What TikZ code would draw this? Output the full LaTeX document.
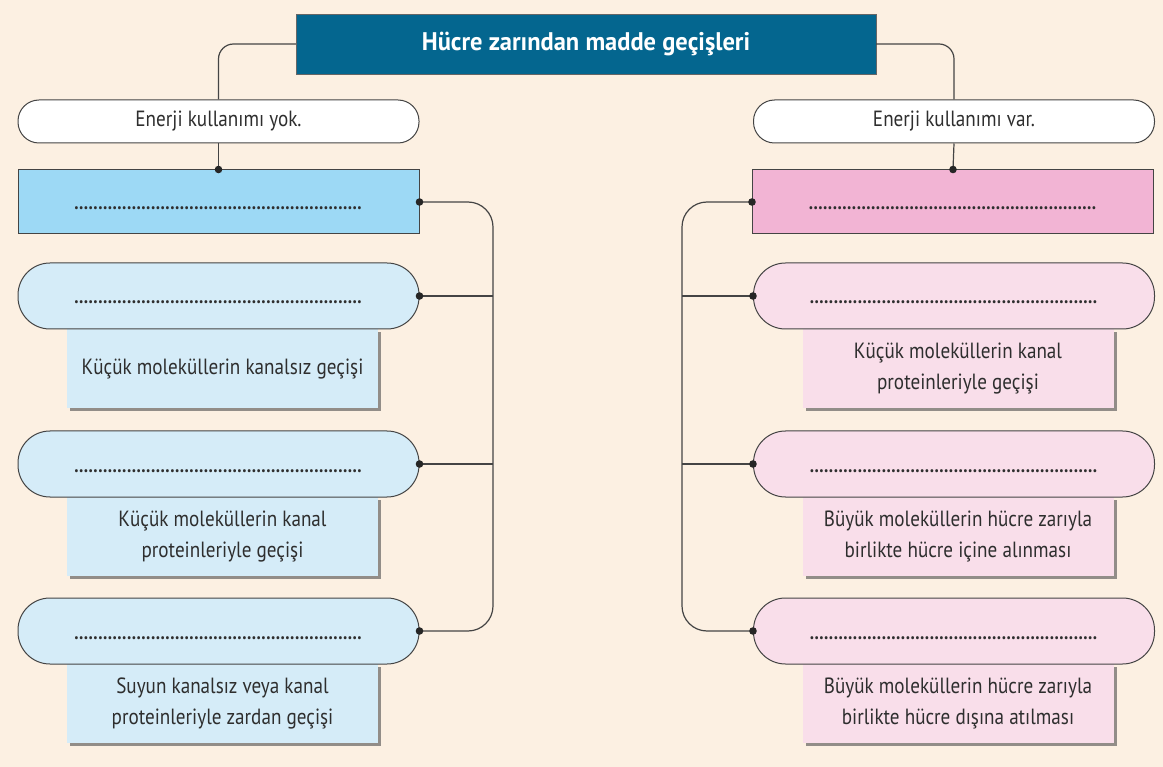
\documentclass[tikz,border=0pt]{standalone}
\usepackage{fontspec}
\setmainfont[FakeStretch=0.87]{PT Sans}
\newfontfamily\titlefont[FakeStretch=0.96]{PT Sans}
\usetikzlibrary{positioning, shadows, calc}
\definecolor{pagecream}{HTML}{FCF0E2}
\definecolor{titleteal}{HTML}{04668F}
\definecolor{passiveblue}{HTML}{9DD9F5}
\definecolor{passivebluelight}{HTML}{D5ECF8}
\definecolor{activepink}{HTML}{F2B4D4}
\definecolor{activepinklight}{HTML}{F9DEEA}
\definecolor{linegray}{HTML}{444444}
\definecolor{textgray}{HTML}{2E2E2E}
\newcommand{\blankline}{\hbox to 289pt{\bfseries\leaders\hbox to 4.8pt{\hss.\hss}\hfill}}
\tikzset{
  link/.style={draw=linegray, line width=1.2pt},
  junction/.style={fill=black!85},
  titlebox/.style={draw=black!60, fill=titleteal, text=white, minimum width=580pt, minimum height=60pt,
    font=\titlefont\fontsize{25.5}{28}\selectfont\bfseries},
  energypill/.style={draw=linegray, line width=1pt, fill=white, rounded corners=21pt, minimum width=401pt,
    minimum height=43pt, text=textgray, font=\fontsize{22}{26}\selectfont},
  mainbox/.style={draw=linegray, line width=1pt, minimum width=401pt, minimum height=64pt, text=textgray,
    text height=16pt, text depth=0pt, font=\fontsize{20}{24}\selectfont},
  blankpill/.style={draw=linegray, line width=1pt, rounded corners=32pt, minimum width=401pt, minimum height=66pt,
    text=textgray, text height=16pt, text depth=0pt, font=\fontsize{20}{24}\selectfont},
  infobox/.style={minimum width=311pt, minimum height=79pt, align=center, text=textgray,
    font=\fontsize{22}{31}\selectfont,
    drop shadow={shadow xshift=3pt, shadow yshift=-3pt, fill=black!70, opacity=.6}}
}
% pill with a text box under it: name, x, y, colour, text
\newcommand{\stepcard}[5]{%
  \node[infobox, fill=#4, anchor=north] (#1info) at (#2+4,#3+33) {#5};
  \node[blankpill, fill=#4] (#1) at (#2,#3) {\blankline};
}
\begin{document}
\begin{tikzpicture}[x=1pt, y=-1pt]
  \fill[pagecream] (0,0) rectangle (1163,767);
  \useasboundingbox (0,0) rectangle (1163,767);

  % title and the two branches
  \node[titlebox] (title) at (586,44) {Hücre zarından madde geçişleri};
  \node[energypill] (enerjiyok) at (218.5,121.5) {Enerji kullanımı yok.};
  \node[energypill] (enerjivar) at (954,121.5) {Enerji kullanımı var.};
  \draw[link, rounded corners=15pt] (title.west) -| (enerjiyok.north);
  \draw[link, rounded corners=15pt] (title.east) -| (enerjivar.north);

  \node[mainbox, fill=passiveblue] (pasif) at (218.5,202) {\blankline};
  \node[mainbox, fill=activepink] (aktif) at (953,202) {\blankline};
  \draw[link] (enerjiyok.south) -- (pasif.north);
  \draw[link] (enerjivar.south) -- (aktif.north);

  % Left: no energy
  \stepcard{pasifA}{218.5}{296}{passivebluelight}{Küçük moleküllerin kanalsız geçişi}
  \stepcard{pasifB}{218.5}{464}{passivebluelight}{Küçük moleküllerin kanal\\proteinleriyle geçişi}
  \stepcard{pasifC}{218.5}{631}{passivebluelight}{Suyun kanalsız veya kanal\\proteinleriyle zardan geçişi}

  % Right: energy used
  \stepcard{aktifA}{954}{296}{activepinklight}{Küçük moleküllerin kanal\\proteinleriyle geçişi}
  \stepcard{aktifB}{954}{464}{activepinklight}{Büyük moleküllerin hücre zarıyla\\birlikte hücre içine alınması}
  \stepcard{aktifC}{954}{631}{activepinklight}{Büyük moleküllerin hücre zarıyla\\birlikte hücre dışına atılması}

  \coordinate (pasifbus) at (493,400);
  \coordinate (aktifbus) at (682,400);
  \draw[link, rounded corners=25pt] (pasif.east) -| (pasifbus) |- (pasifC.east);
  \draw[link, rounded corners=25pt] (aktif.west) -| (aktifbus) |- (aktifC.west);
  \foreach \n in {pasifA, pasifB} {
    \draw[link] (\n.east) -- (\n.east -| pasifbus);
  }
  \foreach \n in {aktifA, aktifB} {
    \draw[link] (\n.west) -- (\n.west -| aktifbus);
  }

  % junction dots
  \foreach \p in {pasif.north, pasif.east, pasifA.east, pasifB.east, pasifC.east,
                  aktif.north, aktif.west, aktifA.west, aktifB.west, aktifC.west} {
    \fill[junction] (\p) circle (3.8pt);
  }
\end{tikzpicture}
\end{document}
